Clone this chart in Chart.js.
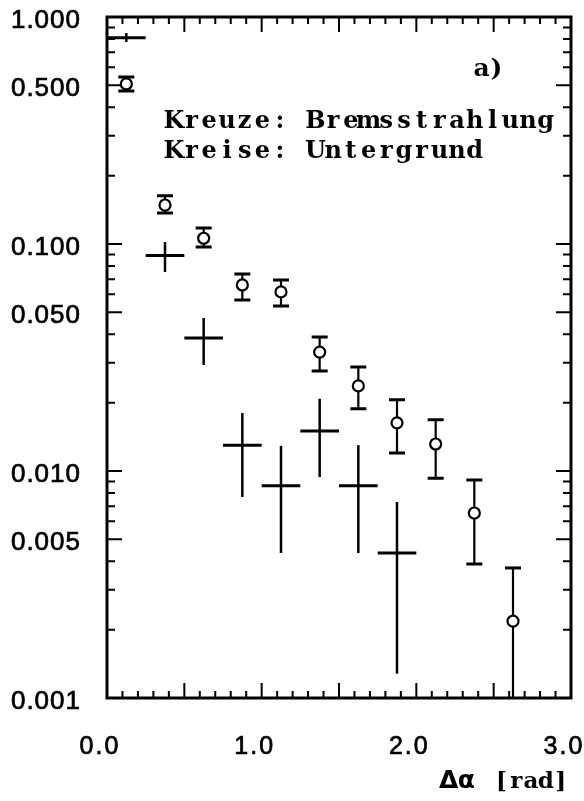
<!DOCTYPE html>
<html>
<head>
<meta charset="utf-8">
<script src="https://cdn.jsdelivr.net/npm/chart.js@4/dist/chart.umd.min.js"></script>
<style>
  html, body { margin: 0; padding: 0; background: #fff; }
  canvas { display: block; }
</style>
</head>
<body>
<canvas id="c" width="584" height="801"></canvas>
<script>
// Δα bins are 0.25 rad wide; values are given at the bin centres.
const binHalfWidth = 0.125;

// Bremsstrahlung (crosses)
const bremsX  = [0.125, 0.375, 0.625, 0.875, 1.125, 1.375, 1.625, 1.875];
const bremsY  = [0.81, 0.089, 0.0385, 0.0130, 0.0086, 0.0150, 0.0086, 0.00435];
const bremsLo = [0.776, 0.0753, 0.0293, 0.00768, 0.00435, 0.0094, 0.00435, 0.00128];
const bremsHi = [0.85, 0.102, 0.0472, 0.0180, 0.0129, 0.0208, 0.0130, 0.0073];

// Untergrund (open circles with error bars)
const bgX  = [0.125, 0.375, 0.625, 0.875, 1.125, 1.375, 1.625, 1.875, 2.125, 2.375, 2.625];
const bgY  = [0.507, 0.1485, 0.106, 0.066, 0.0615, 0.0334, 0.0237, 0.0163, 0.01315, 0.00653, 0.00218];
const bgLo = [0.472, 0.137, 0.097, 0.0566, 0.0533, 0.0276, 0.0188, 0.0120, 0.0093, 0.00389, 0.001];
const bgHi = [0.544, 0.163, 0.1175, 0.0738, 0.0694, 0.0389, 0.0287, 0.0206, 0.0168, 0.00912, 0.00374];

// Axis labels
const yTickValues = [1, 0.5, 0.1, 0.05, 0.01, 0.005, 0.001];
const yTickLabels = ['1.000', '0.500', '0.100', '0.050', '0.010', '0.005', '0.001'];
const xTickValues = [0, 1, 2, 3];
const xTickLabels = ['0.0', '1.0', '2.0', '3.0'];

const legendLines = ['Kreuze: Bremsstrahlung', 'Kreise: Untergrund'];
const panelTag = 'a)';
const xTitleSymbol = 'Δα';
const xTitleUnit = '[rad]';

const INK = '#000';

// Draw text with a fixed character pitch (typewriter look)
function drawPitched(ctx, text, x, y, pitch) {
  ctx.textAlign = 'center';
  for (let i = 0; i < text.length; i++) {
    ctx.fillText(text[i], x + pitch * (i + 0.5), y);
  }
}

// Draw text with extra spacing between glyphs, right/center/left anchored
function drawSpaced(ctx, text, x, y, extra, align) {
  const widths = [...text].map(ch => ctx.measureText(ch).width);
  const total = widths.reduce((a, b) => a + b, 0) + extra * (text.length - 1);
  let cx = align === 'right' ? x - total : align === 'center' ? x - total / 2 : x;
  ctx.textAlign = 'left';
  [...text].forEach((ch, i) => {
    ctx.fillText(ch, cx, y);
    ctx.strokeText(ch, cx, y);
    cx += widths[i] + extra;
  });
}

const errorBars = {
  id: 'errorBars',
  beforeDatasetsDraw(chart) {
    const { ctx, scales: { x, y }, chartArea: a } = chart;
    ctx.save();
    ctx.beginPath();
    ctx.rect(a.left, a.top, a.right - a.left, a.bottom - a.top);
    ctx.clip();
    ctx.strokeStyle = INK;
    ctx.lineCap = 'butt';

    // crosses: horizontal bar spans the bin, vertical bar spans the error
    bremsX.forEach((xv, i) => {
      const px = x.getPixelForValue(xv);
      const py = y.getPixelForValue(bremsY[i]);
      ctx.lineWidth = 3;
      ctx.beginPath();
      ctx.moveTo(x.getPixelForValue(xv - binHalfWidth), py);
      ctx.lineTo(x.getPixelForValue(xv + binHalfWidth), py);
      ctx.stroke();
      ctx.lineWidth = 2.5;
      ctx.beginPath();
      ctx.moveTo(px, y.getPixelForValue(bremsHi[i]));
      ctx.lineTo(px, y.getPixelForValue(bremsLo[i]));
      ctx.stroke();
    });

    // circles: vertical error bars with caps
    bgX.forEach((xv, i) => {
      const px = x.getPixelForValue(xv);
      const top = y.getPixelForValue(bgHi[i]);
      const bot = y.getPixelForValue(bgLo[i]);
      ctx.lineWidth = 2.2;
      ctx.beginPath();
      ctx.moveTo(px, top);
      ctx.lineTo(px, bot);
      ctx.stroke();
      ctx.lineWidth = 3;
      ctx.beginPath();
      ctx.moveTo(px - 8, top); ctx.lineTo(px + 8, top);
      if (bgLo[i] > y.min) { ctx.moveTo(px - 8, bot); ctx.lineTo(px + 8, bot); }
      ctx.stroke();
    });
    ctx.restore();
  }
};

const frameAndText = {
  id: 'frameAndText',
  afterDraw(chart) {
    const { ctx, scales: { x, y }, chartArea: a } = chart;
    ctx.save();
    ctx.strokeStyle = INK;
    ctx.fillStyle = INK;

    // frame
    ctx.lineWidth = 3;
    ctx.strokeRect(a.left, a.top, a.right - a.left, a.bottom - a.top);

    // log ticks on left and right edges, pointing inward
    ctx.lineWidth = 2;
    ctx.beginPath();
    for (let d = 0.001; d < 1; d *= 10) {
      for (let m = 1; m <= 10; m++) {
        const v = m * d;
        if (v < y.min || v > y.max) continue;
        const len = (m === 1 || m === 5 || m === 10) ? 15 : 8;
        const py = y.getPixelForValue(v);
        ctx.moveTo(a.left, py); ctx.lineTo(a.left + len, py);
        ctx.moveTo(a.right, py); ctx.lineTo(a.right - len, py);
      }
    }
    // linear ticks every 0.1 on top and bottom, longer every 0.5
    for (let k = 0; k <= 30; k++) {
      const v = k / 10;
      const len = (k % 5 === 0) ? 15 : 7;
      const px = x.getPixelForValue(v);
      ctx.moveTo(px, a.bottom); ctx.lineTo(px, a.bottom - len);
      ctx.moveTo(px, a.top); ctx.lineTo(px, a.top + len);
    }
    ctx.stroke();

    // y tick labels
    ctx.lineWidth = 0.7;
    ctx.font = '26px "Liberation Sans", Arial, sans-serif';
    ctx.textBaseline = 'alphabetic';
    yTickValues.forEach((v, i) => {
      drawSpaced(ctx, yTickLabels[i], 80, y.getPixelForValue(v) + 11, 1, 'right');
    });
    // x tick labels
    ctx.font = '25px "Liberation Sans", Arial, sans-serif';
    xTickValues.forEach((v, i) => {
      drawSpaced(ctx, xTickLabels[i], x.getPixelForValue(v) - 8, 754, 2, 'center');
    });

    // x axis title
    ctx.font = 'bold 25px "DejaVu Sans", sans-serif';
    drawPitched(ctx, xTitleSymbol, 440, 788, 17.5);
    ctx.font = 'bold 23px "DejaVu Serif", serif';
    drawPitched(ctx, xTitleUnit, 494, 788, 14.8);

    // panel tag and legend text
    ctx.font = 'bold 25px "DejaVu Serif", serif';
    drawPitched(ctx, panelTag, 474, 76, 15);
    ctx.font = 'bold 24px "DejaVu Serif", serif';
    legendLines.forEach((t, i) => drawPitched(ctx, t, 165, 128 + i * 30, 17.7));

    ctx.restore();
  }
};

new Chart(document.getElementById('c'), {
  type: 'scatter',
  data: {
    datasets: [
      {
        label: 'Untergrund',
        data: bgX.map((xv, i) => ({ x: xv, y: bgY[i] })),
        pointStyle: 'circle',
        pointRadius: 5.5,
        pointBorderWidth: 2.2,
        pointBorderColor: INK,
        pointBackgroundColor: '#fff'
      },
      {
        label: 'Bremsstrahlung',
        data: bremsX.map((xv, i) => ({ x: xv, y: bremsY[i] })),
        pointRadius: 0
      }
    ]
  },
  options: {
    responsive: false,
    animation: false,
    devicePixelRatio: 1,
    layout: { padding: { left: 107, right: 13, top: 17, bottom: 103 } },
    scales: {
      x: { type: 'linear', min: 0, max: 3, display: false },
      y: { type: 'logarithmic', min: 0.001, max: 1, display: false }
    },
    plugins: { legend: { display: false }, tooltip: { enabled: false } }
  },
  plugins: [errorBars, frameAndText]
});
</script>
</body>
</html>
